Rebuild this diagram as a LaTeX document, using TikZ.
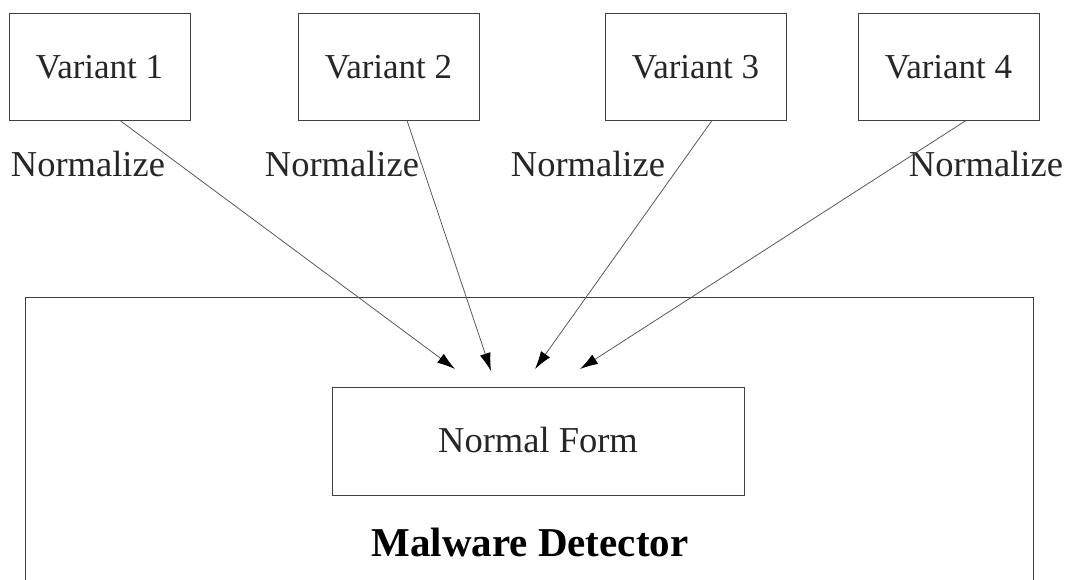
\documentclass[tikz,border=0pt]{standalone}
\usepackage{fontspec}
\setmainfont{Liberation Serif}
\usetikzlibrary{arrows.meta}
\begin{document}
\begin{tikzpicture}[x=1pt,y=-1pt,
  varbox/.style={draw=black!75,line width=1pt,minimum width=181pt,minimum height=107pt,inner sep=0pt},
  lbl/.style={font=\fontsize{35}{40}\selectfont,inner sep=0pt,text=black!85},
  nlbl/.style={font=\fontsize{36.5}{40}\selectfont,inner sep=0pt,text=black!85},
  conn/.style={draw=black!65,line width=0.8pt,-{Latex[length=18pt,width=11pt,fill=black,color=black]}}]
\useasboundingbox (0,0) rectangle (1079,579);
% outer detector frame (open at bottom)
\draw[black!75,line width=1pt] (25,585) -- (25,297) -- (1033,297) -- (1033,585);
% variant boxes
\node[varbox] (v1) at (99.5,66.5) {};
\node[varbox] (v2) at (388.5,66.5) {};
\node[varbox] (v3) at (695.5,66.5) {};
\node[varbox] (v4) at (948.5,66.5) {};
\node[lbl,anchor=base] (t1) at (99.5,78) {Variant 1};
\node[lbl,anchor=base] (t2) at (388.5,78) {Variant 2};
\node[lbl,anchor=base] (t3) at (695.5,78) {Variant 3};
\node[lbl,anchor=base] (t4) at (948.5,78) {Variant 4};
% normal form box
\node[draw=black!75,line width=1pt,minimum width=412pt,minimum height=108pt,inner sep=0pt] (nf) at (538,441) {};
\node[nlbl,anchor=base] (nft) at (538,452) {Normal Form};
\node[font=\bfseries\fontsize{41}{46}\selectfont,inner sep=0pt,anchor=base] (md) at (530,556) {Malware Detector};
% normalize labels
\node[nlbl,anchor=base] (n1) at (88,176) {Normalize};
\node[nlbl,anchor=base] (n2) at (342,176) {Normalize};
\node[nlbl,anchor=base] (n3) at (588,176) {Normalize};
\node[nlbl,anchor=base] (n4) at (986,176) {Normalize};
% arrow targets
\coordinate (e1) at (455,369);
\coordinate (e2) at (491,371);
\coordinate (e3) at (535,369);
\coordinate (e4) at (580,369);
\draw[conn] ([xshift=20.5pt]v1.south) -- (e1);
\draw[conn] ([xshift=18.5pt]v2.south) -- (e2);
\draw[conn] ([xshift=16.5pt]v3.south) -- (e3);
\draw[conn] ([xshift=17.5pt]v4.south) -- (e4);
\end{tikzpicture}
\end{document}
